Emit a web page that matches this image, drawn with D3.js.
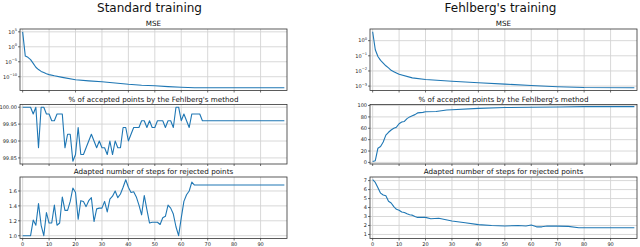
<!DOCTYPE html>
<html>
<head>
<meta charset="utf-8">
<script src="https://cdn.jsdelivr.net/npm/d3@7"></script>
<style>
body { margin: 0; background: #fff; }
svg { display: block; font-family: "DejaVu Sans", sans-serif; }
</style>
</head>
<body>
<div id="chart"></div>
<script>
// epochs 0..99 (index only)
const epochs = d3.range(100)

// ---- Standard training ----
const stdMseX = [0, 1, 2, 3, 4, 5, 6, 7, 8, 9, 10, 12, 15, 20, 25, 30, 35, 40, 45, 50, 55, 60, 65, 70, 99]
const stdMseY = [1e5, 8e-4, 3e-4, 5e-5, 3e-6, 1.5e-7, 2.5e-8, 6e-9, 2.5e-9, 1e-9, 5e-10, 2e-10, 6e-11, 1e-11, 4e-12,
  2e-12, 8e-13, 3e-13, 1.5e-13, 1e-13, 5e-14, 3e-14, 2.2e-14, 2e-14, 2e-14]

const stdAccepted = [100, 100, 100, 100, 99.98, 100, 99.88, 100, 100, 99.98,
  99.98, 99.96, 99.96, 99.98, 99.98, 99.98, 99.88, 99.92, 99.92, 99.84,
  99.86, 99.94, 99.86, 99.86, 99.88, 99.90, 99.92, 99.90, 99.88, 99.90,
  99.88, 99.88, 99.86, 99.90, 99.86, 99.90, 99.88, 99.88, 99.94, 99.94,
  99.90, 99.92, 99.94, 99.94, 99.94, 99.96, 99.96, 99.94, 99.96, 99.94,
  99.94, 99.96, 99.96, 99.96, 99.94, 99.96, 99.96, 99.94, 100, 100,
  99.96, 99.98, 99.96, 99.94, 99.98, 99.98, 99.98, 99.98, 99.96, 99.96,
  99.96, 99.96, 99.96, 99.96, 99.96, 99.96, 99.96, 99.96, 99.96, 99.96,
  99.96, 99.96, 99.96, 99.96, 99.96, 99.96, 99.96, 99.96, 99.96, 99.96,
  99.96, 99.96, 99.96, 99.96, 99.96, 99.96, 99.96, 99.96, 99.96, 99.96]

const stdSteps = [1.0, 1.0, 1.0, 1.0, 1.21, 1.14, 1.43, 1.14, 1.0, 1.31,
  1.17, 1.17, 1.41, 1.14, 1.17, 1.52, 1.34, 1.34, 1.46, 1.64,
  1.58, 1.22, 1.47, 1.46, 1.39, 1.47, 1.51, 1.19, 1.36, 1.37,
  1.37, 1.46, 1.32, 1.49, 1.53, 1.60, 1.51, 1.56, 1.65, 1.75,
  1.65, 1.58, 1.59, 1.52, 1.41, 1.28, 1.54, 1.35, 1.17, 1.18,
  1.18, 1.18, 1.15, 1.24, 1.26, 1.41, 1.37, 1.29, 1.12, 1.0,
  1.24, 1.46, 1.55, 1.60, 1.72, 1.68, 1.68, 1.68, 1.68, 1.68,
  1.68, 1.68, 1.68, 1.68, 1.68, 1.68, 1.68, 1.68, 1.68, 1.68,
  1.68, 1.68, 1.68, 1.68, 1.68, 1.68, 1.68, 1.68, 1.68, 1.68,
  1.68, 1.68, 1.68, 1.68, 1.68, 1.68, 1.68, 1.68, 1.68, 1.68]

// ---- Fehlberg's training ----
const fehMseX = [0, 1, 2, 3, 4, 5, 6, 7, 8, 10, 15, 20, 30, 40, 50, 60, 70, 80, 99]
const fehMseY = [3.9, 0.25, 0.09, 0.05, 0.033, 0.022, 0.016, 0.011, 0.009, 0.006, 0.0035, 0.0027,
  0.0021, 0.00165, 0.00135, 0.0011, 0.0009, 0.0008, 0.00078]

const fehAccX = [0, 1, 2, 3, 4, 5, 6, 7, 8, 9, 10, 11, 12, 13, 14, 15, 16, 17, 19, 20, 24, 28, 30, 40, 50, 60, 70, 80, 99]
const fehAccY = [1.7, 3, 25, 28, 36, 48, 53, 57, 60, 62, 68, 71, 72, 77, 80, 82, 84, 87, 88, 89, 89.5, 92, 92.5,
  95, 96.5, 97, 97.5, 98, 98]

const fehStepsX = [0, 1, 2, 3, 4, 5, 6, 7, 8, 9, 10, 11, 12, 13, 14, 15, 16, 17, 20, 22, 25, 30, 35, 40, 45,
  50, 55, 58, 60, 62, 64, 66, 70, 74, 78, 99]
const fehStepsY = [7.1, 6.8, 6.2, 5.6, 5.4, 5.3, 4.7, 4.5, 4.1, 3.8, 3.7, 3.5, 3.45, 3.3, 3.2, 3.15, 3.0, 2.9,
  2.9, 2.75, 2.8, 2.5, 2.3, 2.1, 2.0, 1.95, 2.0, 1.95, 2.05, 1.85, 1.85, 1.95, 1.93, 1.9, 1.75, 1.75]

// ---- ticks and labels ----
const xTickValues = [0, 10, 20, 30, 40, 50, 60, 70, 80, 90]
const stdMseTicks = [1e5, 1, 1e-5, 1e-10]
const stdMseExp = ["5", "0", "\u22125", "\u221210"]
const stdAccTicks = [99.85, 99.90, 99.95, 100.00]
const stdStepTicks = [1.0, 1.2, 1.4, 1.6]
const fehMseTicks = [1, 0.1, 0.01, 0.001]
const fehMseExp = ["0", "\u22121", "\u22122", "\u22123"]
const fehAccTicks = [0, 20, 40, 60, 80, 100]
const fehStepTicks = [1, 2, 3, 4, 5, 6, 7]

const columnTitles = ["Standard training", "Fehlberg's training"]
const panelTitles = ["MSE", "% of accepted points by the Fehlberg's method", "Adapted number of steps for rejected points"]

const width = 640
const height = 247
const xLimits = [-1, 100]
const cols = [{ left: 20, right: 287 }, { left: 370, right: 637 }]
const rows = [{ top: 29, bottom: 90.5 }, { top: 104.5, bottom: 164 }, { top: 177, bottom: 238.5 }]
const lineColor = "#1f77b4"

const svg = d3.select("#chart").append("svg")
  .attr("width", width)
  .attr("height", height)

function panel(c, r, opt) {
  const col = cols[c]
  const row = rows[r]
  const x = d3.scaleLinear().domain(xLimits).range([col.left, col.right])
  const y = (opt.log ? d3.scaleLog() : d3.scaleLinear())
    .domain(opt.yDomain)
    .range([row.bottom, row.top])

  const g = svg.append("g")

  // grid
  g.selectAll(".gx").data(xTickValues).join("line")
    .attr("x1", d => x(d)).attr("x2", d => x(d))
    .attr("y1", row.top).attr("y2", row.bottom)
    .attr("stroke", "#d4d4d4").attr("stroke-width", 0.9)
  g.selectAll(".gy").data(opt.yTicks).join("line")
    .attr("x1", col.left).attr("x2", col.right)
    .attr("y1", d => y(d)).attr("y2", d => y(d))
    .attr("stroke", "#d4d4d4").attr("stroke-width", 0.9)

  // series
  const line = d3.line()
    .x((d, i) => x(opt.xs[i]))
    .y(d => y(d))
  g.append("path")
    .datum(opt.ys)
    .attr("d", line)
    .attr("fill", "none")
    .attr("stroke", lineColor)
    .attr("stroke-width", 1.1)
    .attr("stroke-linejoin", "round")

  // frame
  g.append("rect")
    .attr("x", col.left).attr("y", row.top)
    .attr("width", col.right - col.left).attr("height", row.bottom - row.top)
    .attr("fill", "none").attr("stroke", "#333").attr("stroke-width", 0.8)

  // tick marks
  g.selectAll(".tx").data(xTickValues).join("line")
    .attr("x1", d => x(d)).attr("x2", d => x(d))
    .attr("y1", row.bottom).attr("y2", row.bottom + 2)
    .attr("stroke", "#333").attr("stroke-width", 0.7)
  g.selectAll(".ty").data(opt.yTicks).join("line")
    .attr("x1", col.left - 2).attr("x2", col.left)
    .attr("y1", d => y(d)).attr("y2", d => y(d))
    .attr("stroke", "#333").attr("stroke-width", 0.7)

  // y tick labels
  const labels = g.selectAll(".ly").data(opt.yTicks).join("text")
    .attr("x", col.left - 3)
    .attr("y", d => y(d) + 1.8)
    .attr("text-anchor", "end")
    .attr("font-size", 5)
    .attr("fill", "#222")
  if (opt.exps) {
    labels.text("10")
    labels.append("tspan")
      .attr("dy", -2.4)
      .attr("font-size", 3.6)
      .text((d, i) => opt.exps[i])
  } else {
    labels.text(d => opt.format(d))
  }

  // x tick labels on the bottom row only
  if (r === 2) {
    g.selectAll(".lx").data(xTickValues).join("text")
      .attr("x", d => x(d))
      .attr("y", row.bottom + 7.5)
      .attr("text-anchor", "middle")
      .attr("font-size", 5)
      .attr("fill", "#222")
      .text(d => d)
  }

  // panel title
  g.append("text")
    .attr("x", (col.left + col.right) / 2)
    .attr("y", row.top - 2.6)
    .attr("text-anchor", "middle")
    .attr("font-size", 7.2)
    .attr("fill", "#111")
    .text(panelTitles[r])
}

panel(0, 0, { xs: stdMseX, ys: stdMseY, log: true, yDomain: [Math.pow(10, -14.6), Math.pow(10, 5.95)],
  yTicks: stdMseTicks, exps: stdMseExp })
panel(0, 1, { xs: epochs, ys: stdAccepted, yDomain: [99.832, 100.008], yTicks: stdAccTicks, format: d3.format(".2f") })
panel(0, 2, { xs: epochs, ys: stdSteps, yDomain: [0.9625, 1.7875], yTicks: stdStepTicks, format: d3.format(".1f") })

panel(1, 0, { xs: fehMseX, ys: fehMseY, log: true, yDomain: [Math.pow(10, -3.29), Math.pow(10, 0.77)],
  yTicks: fehMseTicks, exps: fehMseExp })
panel(1, 1, { xs: fehAccX, ys: fehAccY, yDomain: [-2.8, 101.8], yTicks: fehAccTicks, format: d3.format("d") })
panel(1, 2, { xs: fehStepsX, ys: fehStepsY, yDomain: [0.55, 7.4], yTicks: fehStepTicks, format: d3.format("d") })

// column titles
svg.selectAll(".ctitle").data(columnTitles).join("text")
  .attr("x", (d, i) => (cols[i].left + cols[i].right) / 2 - (i === 0 ? 4 : 3))
  .attr("y", 12)
  .attr("text-anchor", "middle")
  .attr("font-size", 12)
  .attr("fill", "#111")
  .text(d => d)
</script>
</body>
</html>
